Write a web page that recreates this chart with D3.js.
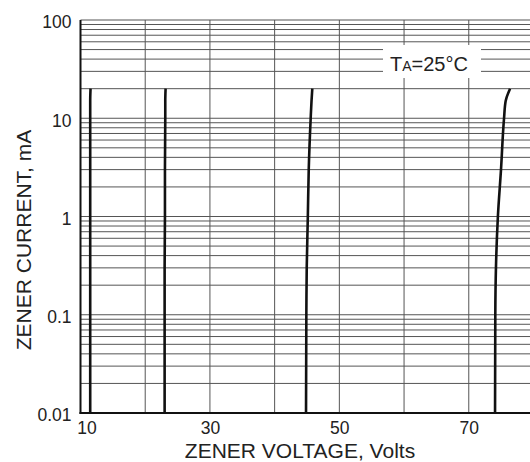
<!DOCTYPE html>
<html>
<head>
<meta charset="utf-8">
<script src="https://cdn.jsdelivr.net/npm/d3@7"></script>
<style>
  body { margin: 0; background: #fff; }
  text { font-family: "Liberation Sans", Arial, sans-serif; fill: #222; }
</style>
</head>
<body>
<div id="chart"></div>
<script>
// values
var currents = [0.01, 0.1, 0.3, 1, 3, 10, 15, 20];            // mA
var zener11 = [11.5, 11.5, 11.5, 11.5, 11.5, 11.5, 11.5, 11.55];
var zener23 = [23.0, 23.0, 23.0, 23.05, 23.05, 23.1, 23.1, 23.15];
var zener45 = [44.85, 44.9, 44.96, 45.13, 45.27, 45.57, 45.7, 45.82];
var zener75 = [74.06, 74.1, 74.2, 74.5, 74.98, 75.45, 75.7, 76.38];
var xTickLabels = [10, 30, 50, 70];
var xGrid = [20, 30, 40, 50, 60, 70];
var yTickLabels = [0.01, 0.1, 1, 10, 100];

var width = 530, height = 462,
    plotLeft = 80.5, plotTop = 20, plotBottom = 413;

var svg = d3.select("#chart").append("svg")
    .attr("width", width).attr("height", height);

var x = d3.scaleLinear().domain([10, 79.4]).range([plotLeft, 529.6]);
var y = d3.scaleLog().domain([0.01, 100]).range([plotBottom, plotTop]);

// grid
var grid = svg.append("g").attr("stroke", "#555").attr("stroke-width", 1);
grid.selectAll("line.h")
    .data(y.ticks())
    .enter().append("line")
    .attr("class", "h")
    .attr("x1", plotLeft).attr("x2", width)
    .attr("y1", function (d) { return y(d); })
    .attr("y2", function (d) { return y(d); });
grid.selectAll("line.v")
    .data(xGrid)
    .enter().append("line")
    .attr("class", "v")
    .attr("x1", function (d) { return x(d); })
    .attr("x2", function (d) { return x(d); })
    .attr("y1", plotTop).attr("y2", plotBottom);

// frame
svg.append("line").attr("x1", plotLeft).attr("x2", plotLeft).attr("y1", plotTop).attr("y2", plotBottom + 1)
    .attr("stroke", "#111").attr("stroke-width", 2);
svg.append("line").attr("x1", plotLeft - 1).attr("x2", width).attr("y1", plotBottom).attr("y2", plotBottom)
    .attr("stroke", "#111").attr("stroke-width", 2);

// TA label, box hides the grid under it
svg.append("rect").attr("x", 383).attr("y", 45).attr("width", 98).attr("height", 33)
    .attr("fill", "#fff");
var ta = svg.append("text").attr("x", 390).attr("y", 71).style("font-size", "20px");
ta.append("tspan").text("T");
ta.append("tspan").style("font-size", "14px").text("A");
ta.append("tspan").text("=25°C");

// curves
var line = d3.line()
    .x(function (d) { return x(d[0]); })
    .y(function (d) { return y(d[1]); })
    .curve(d3.curveMonotoneY);
[zener11, zener23, zener45, zener75].forEach(function (v) {
    svg.append("path")
        .datum(v.map(function (d, i) { return [d, currents[i]]; }))
        .attr("fill", "none")
        .attr("stroke", "#111")
        .attr("stroke-width", 2.6)
        .attr("d", line);
});

// axes labels
var yAxis = svg.append("g")
    .attr("transform", "translate(" + plotLeft + ",0)")
    .call(d3.axisLeft(y).tickValues(yTickLabels).tickSize(0).tickPadding(9)
        .tickFormat(function (d) { return String(d); }));
yAxis.select(".domain").remove();
yAxis.selectAll("text").attr("dy", "0.45em").style("font-size", "17.5px")
    .style("font-family", "'Liberation Sans', Arial, sans-serif").attr("fill", "#222");

var xAxis = svg.append("g")
    .attr("transform", "translate(0," + plotBottom + ")")
    .call(d3.axisBottom(x).tickValues(xTickLabels).tickSize(0).tickPadding(9));
xAxis.select(".domain").remove();
xAxis.selectAll("text").style("font-size", "17.5px")
    .style("font-family", "'Liberation Sans', Arial, sans-serif").attr("fill", "#222")
    .attr("dx", function (d) { return d === 10 ? 6 : 0; });

svg.append("text")
    .attr("x", 300).attr("y", 458)
    .attr("text-anchor", "middle")
    .style("font-size", "21px")
    .text("ZENER VOLTAGE, Volts");

svg.append("text")
    .attr("transform", "translate(31,240) rotate(-90)")
    .attr("text-anchor", "middle")
    .style("font-size", "21px")
    .text("ZENER CURRENT, mA");
</script>
</body>
</html>
